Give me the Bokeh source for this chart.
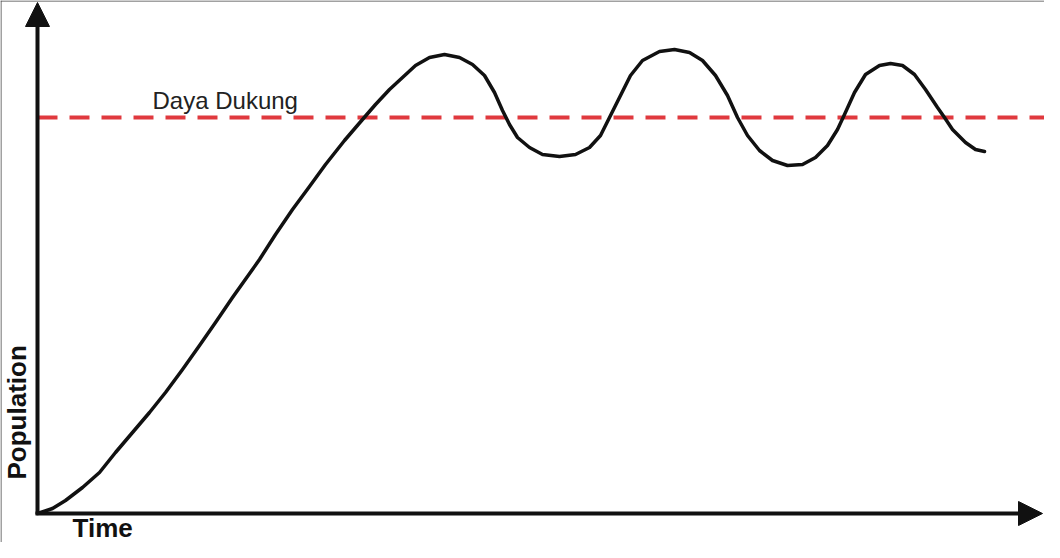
from bokeh.plotting import figure
from bokeh.models import Range1d, Label, Arrow, NormalHead, Span
from bokeh.embed import file_html
from bokeh.resources import INLINE

# ---- data ----
time = [0, 15, 28, 45, 62, 78, 95, 112, 128, 145, 162, 178, 195, 222, 238, 255, 272,
        288, 307, 325, 338, 352, 365, 378, 392, 407, 422, 435, 447, 457, 465, 472,
        480, 492, 505, 522, 538, 552, 563, 573, 583, 593, 605, 622, 637, 652, 665,
        678, 690, 700, 710, 722, 735, 750, 765, 778, 790, 800, 807, 817, 828, 842,
        853, 865, 877, 888, 900, 907, 915, 928, 938, 947]
population = [0, 5, 13, 26, 41, 61, 81, 101, 121, 144, 168, 191, 216, 254, 279, 304, 327,
              349, 373, 394, 409, 424, 436, 448, 456, 459, 456, 449, 438, 421, 403, 389,
              376, 366, 359, 357, 359, 366, 378, 398, 418, 438, 453, 462, 464, 461, 453,
              438, 418, 396, 378, 363, 353, 348, 349, 356, 368, 384, 399, 421, 439, 448,
              450, 448, 439, 424, 406, 396, 384, 371, 364, 362]
carrying_capacity = 396
capacity_label = "Daya Dukung"
x_label = "Time"
y_label = "Population"

x_start, x_end = -37, 1007
y_start, y_end = -29, 513
axis_x_end = 1005
axis_y_end = 511

p = figure(width=1044, height=542,
           x_range=Range1d(x_start, x_end), y_range=Range1d(y_start, y_end),
           x_axis_type=None, y_axis_type=None,
           output_backend="svg", toolbar_location=None, min_border=0)
p.grid.visible = False
p.outline_line_color = None
p.background_fill_color = "white"
p.border_fill_color = "white"

# picture border (top and left edges visible)
p.add_layout(Span(location=x_start + 0.5, dimension="height", line_color="#444444", line_width=1))
p.add_layout(Span(location=y_end - 0.5, dimension="width", line_color="#444444", line_width=1))

# carrying capacity dashed line
p.segment(x0=[time[0]], y0=[carrying_capacity], x1=[x_end], y1=[carrying_capacity],
          line_color="#e0393e", line_width=4, line_dash="20 12")

# population curve
p.line(time, population, line_color="#111111", line_width=3.5,
       line_join="round", line_cap="round")

# axes with arrow heads
p.add_layout(Arrow(end=NormalHead(size=24, fill_color="#111111", line_color="#111111", line_width=1),
                   x_start=0, y_start=-1, x_end=0, y_end=axis_y_end,
                   line_color="#111111", line_width=4))
p.add_layout(Arrow(end=NormalHead(size=24, fill_color="#111111", line_color="#111111", line_width=1),
                   x_start=-2, y_start=0, x_end=axis_x_end, y_end=0,
                   line_color="#111111", line_width=4))

# texts
p.add_layout(Label(x=115, y=413, text=capacity_label, text_font="Liberation Sans",
                   text_font_size="24px", text_color="#222222",
                   text_align="left", text_baseline="alphabetic"))
p.add_layout(Label(x=-21, y=34, text=y_label, angle=1.5707963, text_font="Liberation Sans",
                   text_font_size="26px", text_font_style="bold", text_color="#111111",
                   text_align="left", text_baseline="alphabetic"))
p.add_layout(Label(x=35, y=-14, text=x_label, text_font="Liberation Sans",
                   text_font_size="26px", text_font_style="bold", text_color="#111111",
                   text_align="left", text_baseline="alphabetic"))

open("out.html", "w").write(file_html(p, INLINE))
